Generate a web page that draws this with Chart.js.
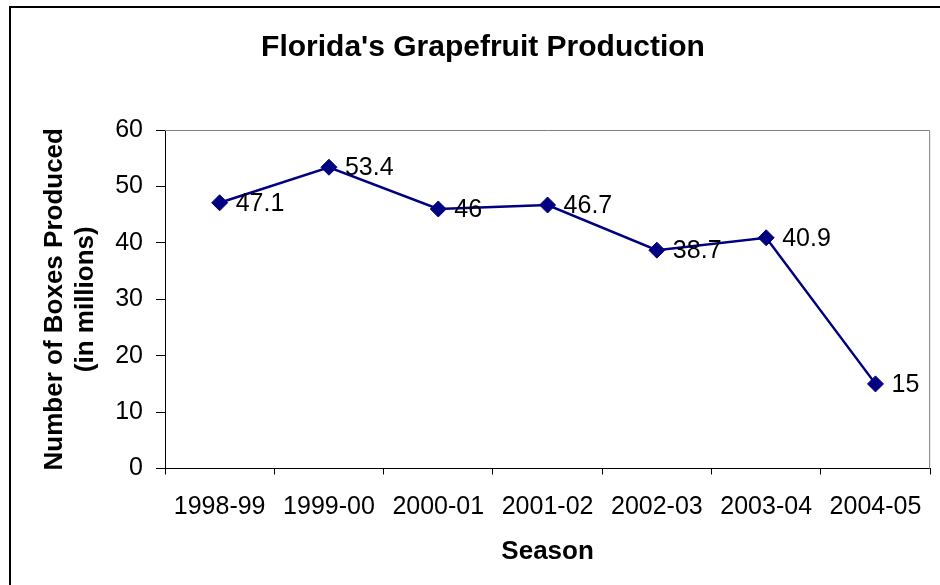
<!DOCTYPE html>
<html>
<head>
<meta charset="utf-8">
<title>Florida's Grapefruit Production</title>
<script src="https://cdn.jsdelivr.net/npm/chart.js@4.4.1/dist/chart.umd.min.js"></script>
<style>
    body { margin: 0; background: #fff; }
    #wrap { width: 940px; height: 585px; }
</style>
</head>
<body>
<div id="wrap"><canvas id="grapefruitChart" width="940" height="585"></canvas></div>
<script>
// data
const seasons = ['1998-99', '1999-00', '2000-01', '2001-02', '2002-03', '2003-04', '2004-05'];
const boxes = [47.1, 53.4, 46, 46.7, 38.7, 40.9, 15];
const yTicks = [0, 10, 20, 30, 40, 50, 60];

const FONT = "'Liberation Sans', Arial, sans-serif";
const NAVY = '#000080';

// frame round the whole chart + grey plot area border
const framePlugin = {
    id: 'frame',
    beforeDraw(chart) {
        const ctx = chart.ctx;
        ctx.save();
        ctx.fillStyle = '#fff';
        ctx.fillRect(0, 0, chart.width, chart.height);
        ctx.strokeStyle = '#000';
        ctx.lineWidth = 2;
        ctx.beginPath();
        ctx.moveTo(10, chart.height + 2);
        ctx.lineTo(10, 7);
        ctx.lineTo(chart.width + 2, 7);
        ctx.stroke();
        ctx.restore();
    },
    beforeDatasetsDraw(chart) {
        const a = chart.chartArea;
        const ctx = chart.ctx;
        ctx.save();
        ctx.strokeStyle = '#808080';
        ctx.lineWidth = 1;
        ctx.beginPath();
        ctx.moveTo(a.left, a.top + 0.5);
        ctx.lineTo(a.right - 0.5, a.top + 0.5);
        ctx.lineTo(a.right - 0.5, a.bottom);
        ctx.stroke();
        ctx.restore();
    }
};

// value labels to the right of each marker
const valueLabels = {
    id: 'valueLabels',
    afterDatasetsDraw(chart) {
        const ctx = chart.ctx;
        const meta = chart.getDatasetMeta(0);
        ctx.save();
        ctx.font = '25px ' + FONT;
        ctx.fillStyle = '#000';
        ctx.textAlign = 'left';
        ctx.textBaseline = 'middle';
        meta.data.forEach(function (pt, i) {
            ctx.fillText(String(boxes[i]), pt.x + 16, pt.y + 1);
        });
        ctx.restore();
    }
};

const chart = new Chart(document.getElementById('grapefruitChart').getContext('2d'), {
    type: 'line',
    data: {
        labels: seasons,
        datasets: [{
            label: 'Boxes',
            data: boxes,
            borderColor: NAVY,
            backgroundColor: NAVY,
            borderWidth: 2.5,
            pointStyle: 'rectRot',
            pointRadius: 8,
            pointBackgroundColor: NAVY,
            pointBorderColor: NAVY,
            pointBorderWidth: 1,
            tension: 0,
            fill: false
        }]
    },
    options: {
        responsive: false,
        animation: false,
        layout: { padding: { left: 30, right: 4, top: 0, bottom: 0 } },
        plugins: {
            legend: { display: false },
            tooltip: { enabled: false },
            title: {
                display: true,
                text: "Florida's Grapefruit Production",
                color: '#000',
                font: { family: FONT, size: 30, weight: 'bold', lineHeight: 1.2 },
                padding: { top: 29.5, bottom: 64.5 }
            }
        },
        scales: {
            x: {
                offset: true,
                grid: { display: true, drawOnChartArea: false, drawTicks: true, tickLength: 6, offset: true, color: '#000' },
                border: { color: '#000', width: 1 },
                ticks: { color: '#000', padding: 18, font: { family: FONT, size: 25 }, maxRotation: 0, autoSkip: false },
                title: {
                    display: true,
                    text: 'Season',
                    color: '#000',
                    font: { family: FONT, size: 26, weight: 'bold', lineHeight: 1.15 },
                    padding: { top: 0, bottom: 18 }
                },
                afterFit(scale) { scale.height = 116.5; }
            },
            y: {
                min: 0,
                max: 60,
                afterBuildTicks(scale) { scale.ticks = yTicks.map(v => ({ value: v })); },
                grid: { display: true, drawOnChartArea: false, drawTicks: true, tickLength: 9, color: '#000' },
                border: { color: '#000', width: 1 },
                ticks: { color: '#000', padding: 13, font: { family: FONT, size: 25 } },
                title: {
                    display: true,
                    text: ['Number of Boxes Produced', '(in millions)'],
                    color: '#000',
                    font: { family: FONT, size: 26, weight: 'bold', lineHeight: 1.2 },
                    padding: { top: 9.5, bottom: 0 }
                },
                afterFit(scale) { scale.width = 135; }
            }
        }
    },
    plugins: [framePlugin, valueLabels]
});
</script>
</body>
</html>
